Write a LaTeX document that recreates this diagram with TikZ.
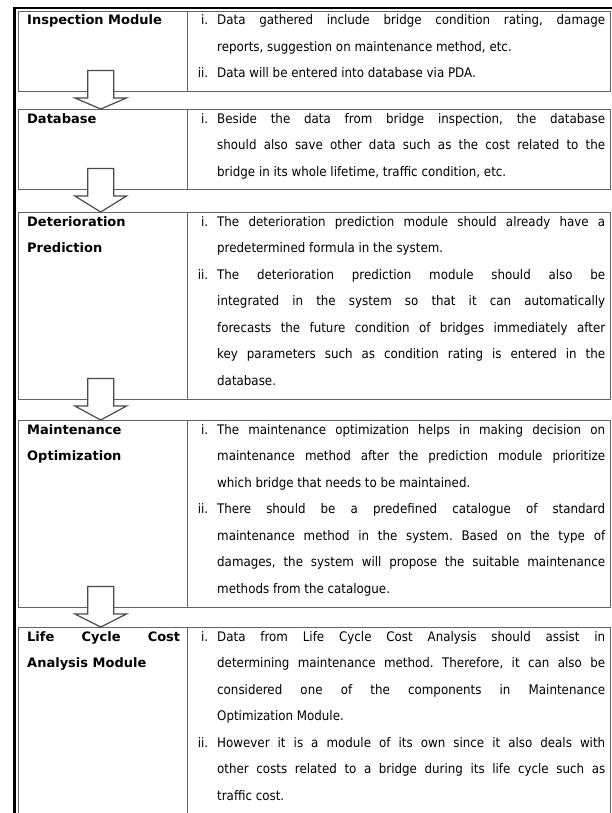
\documentclass[tikz,border=0pt]{standalone}
\usepackage{fontspec}
\setmainfont{DejaVu Sans Condensed}
\newfontfamily\hdfont{DejaVu Sans}
\usetikzlibrary{calc}
\definecolor{boxline}{HTML}{646464}
\definecolor{arrline}{HTML}{4A4A4A}
\newcommand\myIJ[2]{\hbox{\hbox to 12bp{\hss #1}\hspace{9bp}\hbox to 388bp{#2}}}
\newcommand\myIL[2]{\hbox{\hbox to 12bp{\hss #1}\hspace{9bp}#2}}
\newcommand\myCJ[1]{\hbox{\hspace{21bp}\hbox to 388bp{#1}}}
\newcommand\myCL[1]{\hbox{\hspace{21bp}#1}}
\newcommand\txtblock[1]{\begin{minipage}[t]{430bp}\frenchspacing\fontsize{13.2bp}{26.5bp}\selectfont\lineskiplimit=-100bp\baselineskip=26.5bp\parindent=0pt #1\end{minipage}}
\newcommand\hdblock[1]{\begin{minipage}[t]{160bp}\frenchspacing\hdfont\fontsize{13bp}{26.5bp}\selectfont\bfseries\lineskiplimit=-100bp\baselineskip=26.5bp\parindent=0pt #1\end{minipage}}
\newcommand\blockarrow[2]{%
  \coordinate (ba) at ($(#1.south)+(-2.5,0)$);
  \draw[barrow] ($(ba)+(-13,-22)$) -- ($(ba)+(13,-22)$) -- ($(ba)+(13,5.5)$)
    -- ($(ba)+(26,5.5)$) -- (ba |- #2.north) -- ($(ba)+(-26,5.5)$)
    -- ($(ba)+(-13,5.5)$) -- cycle;}
\tikzset{
  cellL/.style={draw=boxline, line width=1.4bp, minimum width=169bp, minimum height=#1, inner sep=0pt, anchor=north west},
  cellR/.style={draw=boxline, line width=1.4bp, minimum width=423bp, minimum height=#1, inner sep=0pt, anchor=north west},
  txt/.style={inner sep=0pt, anchor=base west, text=black},
  barrow/.style={draw=arrline, line width=1.2bp, fill=white, line join=miter},
  frame/.style={draw=black, line width=2.5bp}
}
\begin{document}
\begin{tikzpicture}[x=1bp,y=-1bp]
\useasboundingbox (0,0) rectangle (612,813);
\fill[white] (0,0) rectangle (612,813);
% outer frame
\draw[frame] (14.5,814) -- (14.5,8) -- (613,8);
% cells
\node[cellL=80bp] (c1L) at (18,11) {};
\node[cellR=80bp] (c1R) at (187,11) {};
\node[cellL=80bp] (c2L) at (18,109) {};
\node[cellR=80bp] (c2R) at (187,109) {};
\node[cellL=187bp] (c3L) at (18,212) {};
\node[cellR=187bp] (c3R) at (187,212) {};
\node[cellL=187bp] (c4L) at (18,420) {};
\node[cellR=187bp] (c4R) at (187,420) {};
\node[cellL=210bp] (c5L) at (18,627) {};
\node[cellR=210bp] (c5R) at (187,627) {};
% arrows
\blockarrow{c1L}{c2L}
\blockarrow{c2L}{c3L}
\blockarrow{c3L}{c4L}
\blockarrow{c4L}{c5L}
% headers
\node[txt] (h1) at (27,25) {\hdblock{\hbox{Inspection Module}}};
\node[txt] (h2) at (27,123) {\hdblock{\hbox{Database}}};
\node[txt] (h3) at (27,226) {\hdblock{\hbox{Deterioration}\hbox{Prediction}}};
\node[txt] (h4) at (27,434) {\hdblock{\hbox{Maintenance}\hbox{Optimization}}};
\node[txt] (h5) at (27,641) {\hdblock{\hbox to 153bp{Life Cycle Cost}\hbox{Analysis Module}}};
% descriptions
\node[txt] (t1) at (196,25) {\txtblock{%
\myIJ{i.}{Data gathered include bridge condition rating, damage}
\myCL{reports, suggestion on maintenance method, etc.}
\myIL{ii.}{Data will be entered into database via PDA.}}};
\node[txt] (t2) at (196,123) {\txtblock{%
\myIJ{i.}{Beside the data from bridge inspection, the database}
\myCJ{should also save other data such as the cost related to the}
\myCL{bridge in its whole lifetime, traffic condition, etc.}}};
\node[txt] (t3) at (196,226) {\txtblock{%
\myIJ{i.}{The deterioration prediction module should already have a}
\myCL{predetermined formula in the system.}
\myIJ{ii.}{The deterioration prediction module should also be}
\myCJ{integrated in the system so that it can automatically}
\myCJ{forecasts the future condition of bridges immediately after}
\myCJ{key parameters such as condition rating is entered in the}
\myCL{database.}}};
\node[txt] (t4) at (196,434) {\txtblock{%
\myIJ{i.}{The maintenance optimization helps in making decision on}
\myCJ{maintenance method after the prediction module prioritize}
\myCL{which bridge that needs to be maintained.}
\myIJ{ii.}{There should be a predefined catalogue of standard}
\myCJ{maintenance method in the system. Based on the type of}
\myCJ{damages, the system will propose the suitable maintenance}
\myCL{methods from the catalogue.}}};
\node[txt] (t5) at (196,641) {\txtblock{%
\myIJ{i.}{Data from Life Cycle Cost Analysis should assist in}
\myCJ{determining maintenance method. Therefore, it can also be}
\myCJ{considered one of the components in Maintenance}
\myCL{Optimization Module.}
\myIJ{ii.}{However it is a module of its own since it also deals with}
\myCJ{other costs related to a bridge during its life cycle such as}
\myCL{traffic cost.}}};
\end{tikzpicture}
\end{document}
